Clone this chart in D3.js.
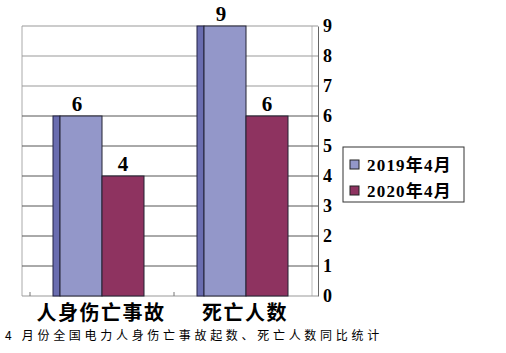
<!DOCTYPE html>
<html>
<head>
<meta charset="utf-8">
<script src="https://cdn.jsdelivr.net/npm/d3@7"></script>
<style>
  body { margin: 0; background: #fff; }
</style>
</head>
<body>
<div id="chart"></div>
<script>
var categories = ['人身伤亡事故', '死亡人数'];
var seriesNames = ['2019年4月', '2020年4月'];
var values2019 = [6, 9];
var values2020 = [4, 6];
var yTicks = [0, 1, 2, 3, 4, 5, 6, 7, 8, 9];
var caption = '4 月份全国电力人身伤亡事故起数、死亡人数同比统计';

var colors = { '2019年4月': '#9397c9', '2020年4月': '#8e3360' };
var sideColor = '#6a6db0';
var serif = 'Liberation Serif';

var svg = d3.select('#chart').append('svg')
  .attr('width', 506)
  .attr('height', 353);

var y = d3.scaleLinear().domain([0, 9]).range([296, 26]);
var x = d3.scaleBand().domain(categories).range([30, 318]);
var x1 = d3.scaleBand().domain(seriesNames)
  .range([x.bandwidth() / 2 - 42, x.bandwidth() / 2 + 42]);

// back wall + grid
svg.append('line')
  .attr('x1', 22).attr('x2', 22).attr('y1', y(9)).attr('y2', y(0))
  .attr('stroke', '#aaa');
svg.append('line')
  .attr('x1', 312).attr('x2', 312).attr('y1', y(9)).attr('y2', y(0))
  .attr('stroke', '#bbb');
svg.selectAll('line.grid')
  .data(yTicks)
  .enter().append('line')
  .attr('class', 'grid')
  .attr('x1', 22).attr('x2', 318)
  .attr('y1', function (d) { return y(d); })
  .attr('y2', function (d) { return y(d); })
  .attr('stroke', function (d) { return d > 6 || d == 0 ? '#999' : '#555'; })
  .attr('stroke-width', 1);

// category ticks on floor
svg.selectAll('line.ctick')
  .data(categories)
  .enter().append('line')
  .attr('class', 'ctick')
  .attr('x1', function (d) { return x(d); })
  .attr('x2', function (d) { return x(d); })
  .attr('y1', y(0) - 4).attr('y2', y(0))
  .attr('stroke', '#777');

// right axis
var yAxis = d3.axisRight(y).tickValues(yTicks).tickSize(0).tickPadding(5);
var ag = svg.append('g').attr('transform', 'translate(318,0)').call(yAxis);
ag.attr('font-family', serif);
ag.select('.domain').attr('stroke', '#666');
ag.selectAll('text')
  .attr('font-family', serif)
  .attr('font-weight', 'bold')
  .attr('font-size', 18)
  .attr('fill', '#000');

// bars
var rows = categories.map(function (c, i) {
  return { cat: c, vals: [
    { s: seriesNames[0], v: values2019[i] },
    { s: seriesNames[1], v: values2020[i] }
  ] };
});

var groups = svg.selectAll('g.cat')
  .data(rows)
  .enter().append('g')
  .attr('class', 'cat')
  .attr('transform', function (d) { return 'translate(' + x(d.cat) + ',0)'; });

// side faces (only 2019 visible)
groups.append('rect')
  .attr('x', function (d) { return x1(seriesNames[0]) - 7; })
  .attr('y', function (d) { return y(d.vals[0].v); })
  .attr('width', 7)
  .attr('height', function (d) { return y(0) - y(d.vals[0].v); })
  .attr('fill', sideColor)
  .attr('stroke', '#222244')
  .attr('stroke-width', 1);

groups.selectAll('rect.bar')
  .data(function (d) { return d.vals; })
  .enter().append('rect')
  .attr('class', 'bar')
  .attr('x', function (d) { return x1(d.s); })
  .attr('y', function (d) { return y(d.v); })
  .attr('width', x1.bandwidth())
  .attr('height', function (d) { return y(0) - y(d.v); })
  .attr('fill', function (d) { return colors[d.s]; })
  .attr('stroke', '#222233')
  .attr('stroke-width', 1);

groups.selectAll('text.val')
  .data(function (d) { return d.vals; })
  .enter().append('text')
  .attr('class', 'val')
  .attr('x', function (d, i) {
    return x1(d.s) + x1.bandwidth() / 2 + (i == 0 ? -4 : 0);
  })
  .attr('y', function (d) { return y(d.v) - 5; })
  .attr('text-anchor', 'middle')
  .attr('font-family', serif)
  .attr('font-weight', 'bold')
  .attr('font-size', 21)
  .text(function (d) { return d.v; });

// category labels
svg.selectAll('text.cat')
  .data(categories)
  .enter().append('text')
  .attr('class', 'cat')
  .attr('x', function (d) { return x(d) + x.bandwidth() / 2 - 1; })
  .attr('y', 320)
  .attr('text-anchor', 'middle')
  .attr('font-family', 'Noto Sans CJK SC')
  .attr('font-weight', 'bold')
  .attr('font-size', 20)
  .attr('letter-spacing', 1.5)
  .text(function (d) { return d; });

// legend
var lg = svg.append('g').attr('transform', 'translate(343,147)');
lg.append('rect')
  .attr('width', 121).attr('height', 55)
  .attr('fill', '#fff').attr('stroke', '#333');
var li = lg.selectAll('g.item')
  .data(seriesNames)
  .enter().append('g')
  .attr('class', 'item')
  .attr('transform', function (d, i) { return 'translate(7,' + (13 + i * 26) + ')'; });
li.append('rect')
  .attr('width', 9).attr('height', 9)
  .attr('fill', function (d) { return colors[d]; })
  .attr('stroke', '#222');
li.append('text')
  .attr('x', 17).attr('y', 11)
  .attr('font-family', serif + ', Noto Sans CJK SC')
  .attr('font-weight', 'bold')
  .attr('font-size', 17)
  .attr('letter-spacing', 1.2)
  .text(function (d) { return d; });

// caption
svg.append('text')
  .attr('x', 5).attr('y', 340)
  .attr('font-family', 'Noto Sans CJK SC')
  .attr('font-size', 12)
  .attr('letter-spacing', 3.7)
  .text(caption);
</script>
</body>
</html>
